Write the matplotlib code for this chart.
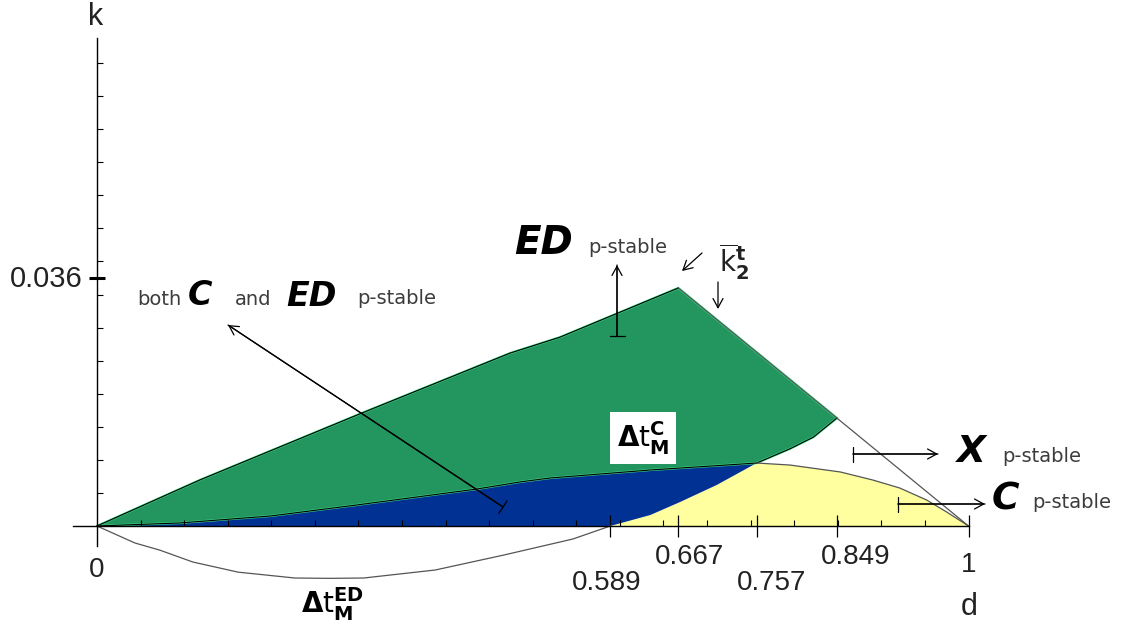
import numpy as np
import matplotlib
matplotlib.use("Agg")
import matplotlib.pyplot as plt
from matplotlib.ticker import FixedLocator, NullFormatter

# ---------------- data ----------------
# upper boundary of the green region (ED p-stable limit)
up_d = [0.0, 0.118, 0.304, 0.474, 0.531, 0.667]
up_k = [0.0, 0.00668, 0.0164, 0.0251, 0.0274, 0.03455]
# descending straight line k2_t from the peak to d = 1
line_d = [0.667, 1.0]
line_k = [0.03455, 0.0]
# Delta t_M^C curve (blue / green boundary)
dc_d = [0.0, 0.095, 0.199, 0.298, 0.436, 0.485, 0.520, 0.635, 0.757]
dc_k = [0.0, 0.00044, 0.00145, 0.00305, 0.00537, 0.00639, 0.00697, 0.00813, 0.00914]
# boundary starting at d = 0.589 (blue/yellow, then green/white)
bd_d = [0.589, 0.635, 0.669, 0.711, 0.757, 0.795, 0.822, 0.849]
bd_k = [0.0, 0.0016, 0.00348, 0.00595, 0.00914, 0.0112, 0.0129, 0.01567]
# upper boundary of the yellow region (C p-stable)
yt_d = [0.757, 0.795, 0.853, 0.890, 0.921, 0.952, 0.975, 1.0]
yt_k = [0.00914, 0.00885, 0.00784, 0.00668, 0.00552, 0.00377, 0.00203, 0.0]
# Delta t_M^ED curve (below the axis)
de_d = [0.0, 0.0436, 0.072, 0.110, 0.162, 0.227, 0.267, 0.306, 0.388, 0.467, 0.546, 0.589]
de_k = [0.0, -0.00247, -0.0035, -0.00523, -0.0067, -0.00755, -0.0076, -0.00755,
        -0.00639, -0.00421, -0.00189, 0.0]

x_major = [0.589, 0.667, 0.757, 0.849, 1.0]
x_major_labels = ["0.589", "0.667", "0.757", "0.849", "1"]
x_minor = [0.05 * i for i in range(1, 20)]
y_major = [0.036]
y_major_labels = ["0.036"]
y_minor = [0.0048 * i for i in range(1, 15)]

# ---------------- layout helpers ----------------
W, H = 1127, 631
X0, SX = 97.0, 871.5      # pixel of d=0, pixels per unit d
Y0, SY = 526.0, 6889.0    # pixel of k=0, pixels per unit k


def P(px, py):
    """figure pixel -> data coordinates (for annotation placement)"""
    return ((px - X0) / SX, (Y0 - py) / SY)


GREEN = "#23965f"
GREEN_EDGE = "#3fd987"
BLUE = "#023194"
YELLOW = "#ffffa0"
GRAY_TXT = "#3c3c3c"

fig = plt.figure(figsize=(W / 100, H / 100), dpi=100)
ax = fig.add_axes([0, 0, 1, 1])
ax.set_xlim(P(0, 0)[0], P(W, 0)[0])
ax.set_ylim(P(0, H)[1], P(0, 0)[1])
ax.patch.set_visible(False)

up_d_a, up_k_a = np.array(up_d), np.array(up_k)
dc_d_a, dc_k_a = np.array(dc_d), np.array(dc_k)
bd_d_a, bd_k_a = np.array(bd_d), np.array(bd_k)
yt_d_a, yt_k_a = np.array(yt_d), np.array(yt_k)

# ---------------- regions ----------------
# yellow: C p-stable only
m_low = bd_d_a <= 0.757
yx = np.concatenate([bd_d_a[m_low], yt_d_a[1:]])
yk = np.concatenate([bd_k_a[m_low], yt_k_a[1:]])
ax.fill(yx, yk, facecolor=YELLOW, edgecolor="none", zorder=1)

# blue: both C and ED p-stable
bx = np.concatenate([dc_d_a, bd_d_a[m_low][::-1][1:]])
bk = np.concatenate([dc_k_a, bd_k_a[m_low][::-1][1:]])
ax.fill(bx, bk, facecolor=BLUE, edgecolor="none", zorder=1)

# green: ED p-stable
m_hi = bd_d_a >= 0.757
gx = np.concatenate([up_d_a, bd_d_a[m_hi][::-1], dc_d_a[::-1][1:]])
gk = np.concatenate([up_k_a, bd_k_a[m_hi][::-1], dc_k_a[::-1][1:]])
ax.fill(gx, gk, facecolor=GREEN, edgecolor=GREEN_EDGE, lw=1.6, zorder=1.2)

# ---------------- curves ----------------
ax.plot(up_d, up_k, color="black", lw=0.8, zorder=2)
ax.plot(dc_d, dc_k, color="black", lw=0.8, zorder=2)
ax.plot(bd_d_a[m_hi], bd_k_a[m_hi], color="black", lw=0.8, zorder=2)
ax.plot(line_d, line_k, color="#555555", lw=0.9, zorder=2)
ax.plot(yt_d, yt_k, color="#555555", lw=0.9, zorder=2)
ax.plot(de_d, de_k, color="#555555", lw=0.9, zorder=2)

# ---------------- axes ----------------
for s in ["top", "right"]:
    ax.spines[s].set_visible(False)
ax.spines["left"].set_position(("data", 0))
ax.spines["bottom"].set_position(("data", 0))
ax.spines["left"].set_bounds(P(0, 546)[1], P(0, 38)[1])
ax.spines["bottom"].set_bounds(P(73, 0)[0], 1.0)
for s in ["left", "bottom"]:
    ax.spines[s].set_linewidth(1.0)
    ax.spines[s].set_zorder(3)

ax.xaxis.set_major_locator(FixedLocator(x_major))
ax.xaxis.set_minor_locator(FixedLocator(x_minor))
ax.yaxis.set_major_locator(FixedLocator(y_major))
ax.yaxis.set_minor_locator(FixedLocator(y_minor))
ax.xaxis.set_major_formatter(NullFormatter())
ax.yaxis.set_major_formatter(NullFormatter())
ax.tick_params(axis="x", which="major", direction="inout", length=15.5, width=0.9)
ax.tick_params(axis="x", which="minor", direction="in", length=4.5, width=0.8)
ax.tick_params(axis="y", which="major", direction="inout", length=12, width=2.2)
ax.tick_params(axis="y", which="minor", direction="in", length=4.0, width=0.8)

# tick labels (hand-placed like the original)
LBL = dict(family="Liberation Sans", fontsize=20, color="#222222",
           ha="center", va="center")
x_lbl_py = [583, 557, 583, 557, 565]
x_lbl_px = [607, 689, 772, 856, 969]
for lab, px, py in zip(x_major_labels, x_lbl_px, x_lbl_py):
    ax.text(*P(px, py), lab, **LBL)
ax.text(*P(97, 570), "0", **LBL)
ax.text(*P(83, 279), y_major_labels[0], **{**LBL, "ha": "right", "fontsize": 21})
ax.text(*P(96, 17), "k", **{**LBL, "fontsize": 22})
ax.text(*P(969, 607), "d", **{**LBL, "fontsize": 22})

# ---------------- annotations ----------------
BIG = dict(family="DejaVu Sans", fontweight="bold", fontstyle="italic",
           color="black", ha="left", va="baseline")
SMALL = dict(family="DejaVu Sans", fontsize=14, color=GRAY_TXT,
             ha="left", va="baseline")

ax.text(*P(137, 305), "both", **SMALL)
ax.text(*P(188, 305), "C", fontsize=24, **BIG)
ax.text(*P(235, 305), "and", **SMALL)
ax.text(*P(286, 306), "ED", fontsize=24, **BIG)
ax.text(*P(357, 304), "p-stable", **SMALL)

ax.text(*P(514, 254), "ED", fontsize=28, **BIG)
ax.text(*P(588, 253), "p-stable", **SMALL)

ax.text(*P(957, 462), "X", fontsize=27, **BIG)
ax.text(*P(1002, 462), "p-stable", **SMALL)

ax.text(*P(992, 510), "C", fontsize=27, **BIG)
ax.text(*P(1032, 508), "p-stable", **SMALL)

ax.text(*P(734, 262), r"$\overline{\mathrm{k}}_{\mathbf{2}}^{\mathbf{t}}$",
        fontsize=20, ha="center", va="center", color="#222222")

ax.text(*P(643, 438), r"$\mathbf{\Delta}\mathrm{t}_{\mathbf{M}}^{\mathbf{C}}$",
        fontsize=20, ha="center", va="center", color="black",
        bbox=dict(boxstyle="square,pad=0.25", facecolor="white",
                  edgecolor="none"), zorder=4)

ax.text(*P(333, 604), r"$\mathbf{\Delta}\mathrm{t}_{\mathbf{M}}^{\mathbf{ED}}$",
        fontsize=20, ha="center", va="center", color="black")

# arrows: (tail pixel, head pixel, with bar at tail?)
arrows = [
    ((503, 507), (228, 325), True),
    ((617, 336), (617, 265), True),
    ((702, 253), (682, 271), False),
    ((718, 282), (718, 309), False),
    ((853, 454), (938, 454), True),
    ((898, 504), (985, 504), True),
]
for tail, head, bar in arrows:
    ax.annotate("", xy=P(*head), xytext=P(*tail),
                arrowprops=dict(arrowstyle="->,head_length=0.55,head_width=0.3",
                                color="black", lw=0.9,
                                shrinkA=0, shrinkB=0, mutation_scale=12),
                zorder=5)
    if bar:
        ax.annotate("", xy=P(*head), xytext=P(*tail),
                    arrowprops=dict(arrowstyle="]-,widthA=0.45,lengthA=0",
                                    color="black", lw=0.9,
                                    shrinkA=0, shrinkB=0, mutation_scale=12),
                    zorder=5)

fig.savefig("out.png", dpi=100)
